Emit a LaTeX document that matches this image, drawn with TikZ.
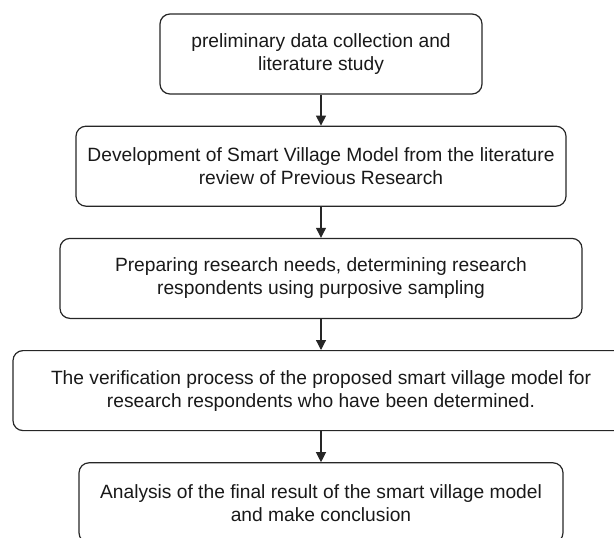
\documentclass[tikz,border=0pt]{standalone}
\usepackage{fontspec}
\setmainfont{Liberation Sans}
\usetikzlibrary{positioning,arrows.meta}
\def\stepfont{\fontsize{19.2}{23}\selectfont}
\def\flow{\draw[-{Triangle[length=10pt,width=10pt]}]}

\begin{document}
\begin{tikzpicture}[x=1pt,y=-1pt,line width=1.2pt,draw=black!85,
    node distance=31pt,
    stepbox/.style={draw=black!85,rounded corners=10pt,minimum height=80pt,
        inner sep=0pt,align=center,font=\stepfont,text=black!90}]
    \useasboundingbox (0,0) rectangle (614,538);
    \node[stepbox,minimum width=322pt] (collect) at (321,54)
        {preliminary data collection and\\literature study};
    \node[stepbox,minimum width=490pt,below=of collect] (develop)
        {Development of Smart Village Model from the literature\\review of Previous Research};
    \node[stepbox,minimum width=522pt,below=of develop] (prepare)
        {Preparing research needs, determining research\\respondents using purposive sampling};
    \node[stepbox,minimum width=616pt,below=of prepare] (verify)
        {The verification process of the proposed smart village model for\\research respondents who have been determined.};
    \node[stepbox,minimum width=484pt,below=of verify] (analyse)
        {Analysis of the final result of the smart village model\\and make conclusion};
    \flow (collect) -- (develop);
    \flow (develop) -- (prepare);
    \flow (prepare) -- (verify);
    \flow (verify) -- (analyse);
\end{tikzpicture}
\end{document}
